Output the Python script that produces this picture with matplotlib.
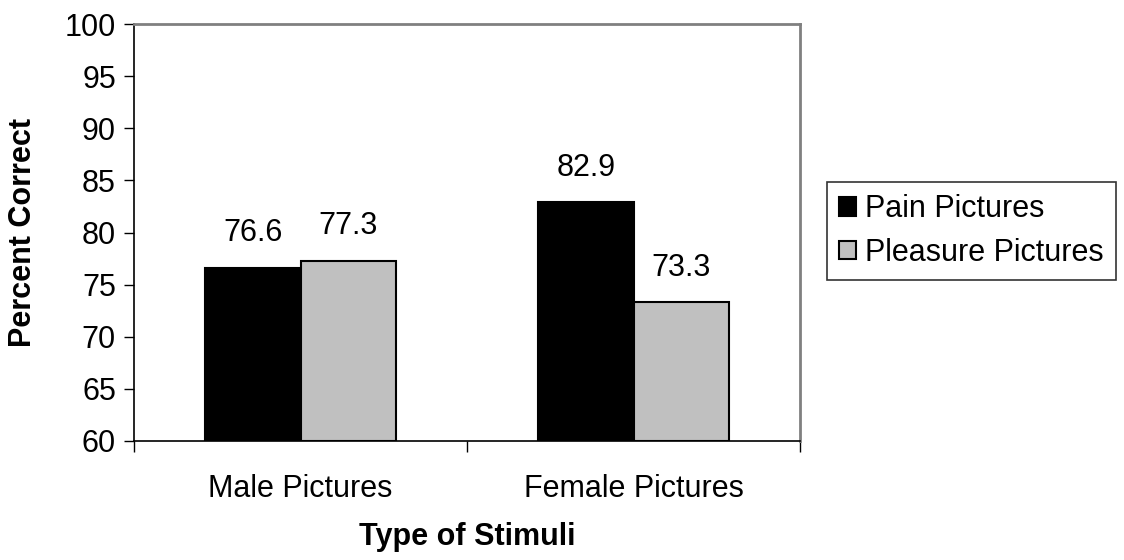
import matplotlib
matplotlib.use("Agg")
import matplotlib.pyplot as plt
import numpy as np

categories = ["Male Pictures", "Female Pictures"]
series_names = ["Pain Pictures", "Pleasure Pictures"]
pain = [76.6, 82.9]
pleasure = [77.3, 73.3]
y_ticks = [60, 65, 70, 75, 80, 85, 90, 95, 100]

plt.rcParams['font.family'] = ['Liberation Sans', 'DejaVu Sans']
FS = 22

fig = plt.figure(figsize=(11.24, 5.6), dpi=100)
ax = fig.add_axes([134/1124, 1-441/560, (800-134)/1124, (441-24)/560])

x = np.arange(len(categories))
w = 0.2857
b1 = ax.bar(x - w/2, np.array(pain) - 60, w, bottom=60, color='black',
            edgecolor='black', linewidth=1.5, label=series_names[0])
b2 = ax.bar(x + w/2, np.array(pleasure) - 60, w, bottom=60, color='#c0c0c0',
            edgecolor='black', linewidth=1.5, label=series_names[1])

for bars, vals in ((b1, pain), (b2, pleasure)):
    for rect, v in zip(bars, vals):
        ax.annotate(f"{v:.1f}", (rect.get_x() + rect.get_width()/2, v),
                    xytext=(0, 25), textcoords='offset points',
                    ha='center', va='center', fontsize=FS)

ax.set_xlim(-0.5, 1.5)
ax.set_ylim(60, 100)
ax.set_yticks(y_ticks)
ax.set_yticklabels([str(t) for t in y_ticks], fontsize=FS)
ax.set_xticks(x)
ax.set_xticklabels(categories, fontsize=FS)
ax.tick_params(axis='x', length=0, pad=24)
ax.tick_params(axis='y', length=7, width=1, direction='out', pad=6)
ax.set_xticks([-0.5, 0.5, 1.5], minor=True)
ax.tick_params(axis='x', which='minor', length=8, width=1, direction='out')

for s in ('top', 'right'):
    ax.spines[s].set_color('#808080')
    ax.spines[s].set_linewidth(2)
for s in ('left', 'bottom'):
    ax.spines[s].set_color('black')
    ax.spines[s].set_linewidth(1.2)

ax.set_ylabel("Percent Correct", fontsize=FS, fontweight='bold')
ax.set_xlabel("Type of Stimuli", fontsize=FS, fontweight='bold', labelpad=13)
ax.yaxis.set_label_coords(-(134-38)/666, 0.5)

leg = fig.legend(handles=[b1, b2], labels=series_names, loc='center left',
                 bbox_to_anchor=(827/1124, 1-231/560), fontsize=FS,
                 frameon=True, fancybox=False, edgecolor='black',
                 handlelength=0.55, handleheight=0.55, handletextpad=0.3,
                 borderpad=0.4, labelspacing=0.45, borderaxespad=0)
leg.get_frame().set_linewidth(1.2)

fig.savefig("out.png", dpi=100, facecolor='white')
